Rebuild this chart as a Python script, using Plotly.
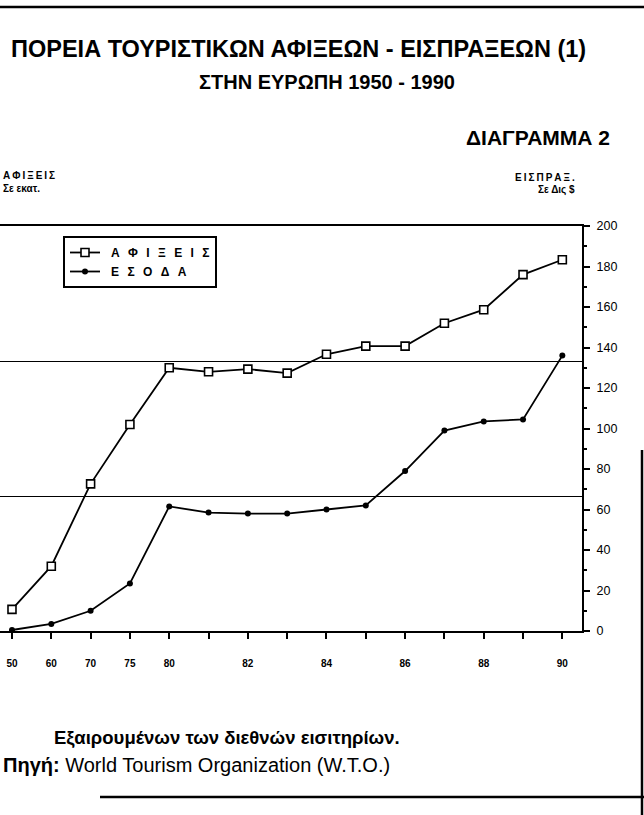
import plotly.graph_objects as go

# Europe 1950-1990: tourist arrivals (millions) and receipts (billion $)
years = ["1950", "1960", "1970", "1975", "1980", "1981", "1982", "1983",
         "1984", "1985", "1986", "1987", "1988", "1989", "1990"]
year_labels = ["50", "60", "70", "75", "80", "", "82", "", "84", "", "86", "", "88", "", "90"]
arrivals = [16, 48, 109, 153, 195, 192, 194, 191, 205, 211, 211, 228, 238, 264, 275]
receipts = [0.5, 3.5, 10, 23.5, 61.5, 58.5, 58, 58, 60, 62, 79, 99, 103.5, 104.5, 136]

arrivals_grid = [100, 200]
receipts_ticks = list(range(0, 201, 20))

FONT = "Liberation Sans, Arial, sans-serif"

# plot area in pixels (left edge of the scan is cut off)
X0, X1, Y0, Y1 = 0, 582, 226, 631


def px(x):
    return (x - X0) / (X1 - X0)


def py(y):
    return (Y1 - y) / (Y1 - Y0)


def spaced(s, sep):
    return sep.join(s)


fig = go.Figure()

fig.add_trace(go.Scatter(
    x=years, y=arrivals, name="\u2002" + spaced("ΑΦΙΞΕΙΣ", "\u2002\u2009"), yaxis="y",
    mode="lines+markers",
    line=dict(color="black", width=1.8),
    marker=dict(symbol="square", size=8, color="white",
                line=dict(color="black", width=1.6)),
))
fig.add_trace(go.Scatter(
    x=years, y=receipts, name="\u2002" + spaced("ΕΣΟΔΑ", "\u2002\u2009"), yaxis="y2",
    mode="lines+markers",
    line=dict(color="black", width=1.8),
    marker=dict(symbol="circle", size=6, color="black"),
))

fig.update_layout(
    width=644, height=815,
    margin=dict(l=X0, r=644 - X1, t=Y0, b=815 - Y1),
    paper_bgcolor="white", plot_bgcolor="white",
    font=dict(family=FONT, color="black"),
    hovermode=False,
    xaxis=dict(
        type="category", range=[-0.305, 14.5],
        tickvals=years, ticktext=year_labels,
        ticks="outside", ticklen=6, tickwidth=1.5, tickcolor="black",
        showline=True, linewidth=2, linecolor="black", mirror=True,
        showgrid=False, zeroline=False,
        ticklabelstandoff=16,
        tickfont=dict(family=FONT, size=10, color="black", weight="bold"),
    ),
    yaxis=dict(
        range=[0, 300], tickvals=arrivals_grid, showticklabels=False,
        showgrid=True, gridcolor="black", gridwidth=1.2,
        ticks="", showline=False, zeroline=False,
    ),
    yaxis2=dict(
        overlaying="y", side="right", range=[0, 200],
        tickvals=receipts_ticks,
        ticks="outside", ticklen=6, tickwidth=1.5, tickcolor="black",
        minor=dict(dtick=10, ticks="outside", ticklen=3, tickcolor="black"),
        showline=True, linewidth=2, linecolor="black",
        showgrid=False, zeroline=False,
        ticklabelstandoff=4,
        tickfont=dict(family=FONT, size=12.5, color="black"),
    ),
    legend=dict(
        x=px(63), y=py(236), xanchor="left", yanchor="top",
        bordercolor="black", borderwidth=2, bgcolor="white",
        font=dict(family=FONT, size=12, color="black", weight="bold"),
        itemwidth=30, tracegroupgap=0,
    ),
    showlegend=True,
)

notes = [
    dict(text="ΠΟΡΕΙΑ ΤΟΥΡΙΣΤΙΚΩΝ ΑΦΙΞΕΩΝ - ΕΙΣΠΡΑΞΕΩΝ (1)", x=588, y=49,
         xanchor="right", font=dict(size=23.5, weight="bold")),
    dict(text="ΣΤΗΝ ΕΥΡΩΠΗ 1950 - 1990", x=327, y=82,
         xanchor="center", font=dict(size=20, weight="bold")),
    dict(text="ΔΙΑΓΡΑΜΜΑ 2", x=612, y=137,
         xanchor="right", font=dict(size=21, weight="bold")),
    dict(text=spaced("ΕΙΣΠΡΑΞ.", "\u2009"), x=577, y=177,
         xanchor="right", font=dict(size=10, weight="bold")),
    dict(text="Σε Δις $", x=577, y=190,
         xanchor="right", font=dict(size=10, weight="bold")),
    dict(text=spaced("ΑΦΙΞΕΙΣ", "\u2009"), x=1, y=176,
         xanchor="left", font=dict(size=10, weight="bold")),
    dict(text="Σε εκατ.", x=1, y=189,
         xanchor="left", font=dict(size=10, weight="bold")),
    dict(text="Εξαιρουμένων των διεθνών εισιτηρίων.", x=52, y=738,
         xanchor="left", font=dict(size=18.5, weight="bold")),
    dict(text="<b>Πηγή:</b> World Tourism Organization (W.T.O.)", x=1, y=765,
         xanchor="left", font=dict(size=20)),
]
for n in notes:
    fig.add_annotation(
        text=n["text"], x=px(n["x"]), y=py(n["y"]), xref="paper", yref="paper",
        xanchor=n["xanchor"], yanchor="middle", showarrow=False,
        font=dict(color="black", family=FONT, **n["font"]),
    )

# page frame lines of the scanned sheet
frame = [
    (0, 7, 644, 7),
    (100, 797, 644, 797),
    (642, 450, 642, 815),
]
for x0, y0, x1, y1 in frame:
    fig.add_shape(type="line", xref="paper", yref="paper",
                  x0=px(x0), y0=py(y0), x1=px(x1), y1=py(y1),
                  line=dict(color="black", width=2.5))

fig.write_html("out.html", config={"displayModeBar": False},
               post_script="document.body.style.margin='0';")
